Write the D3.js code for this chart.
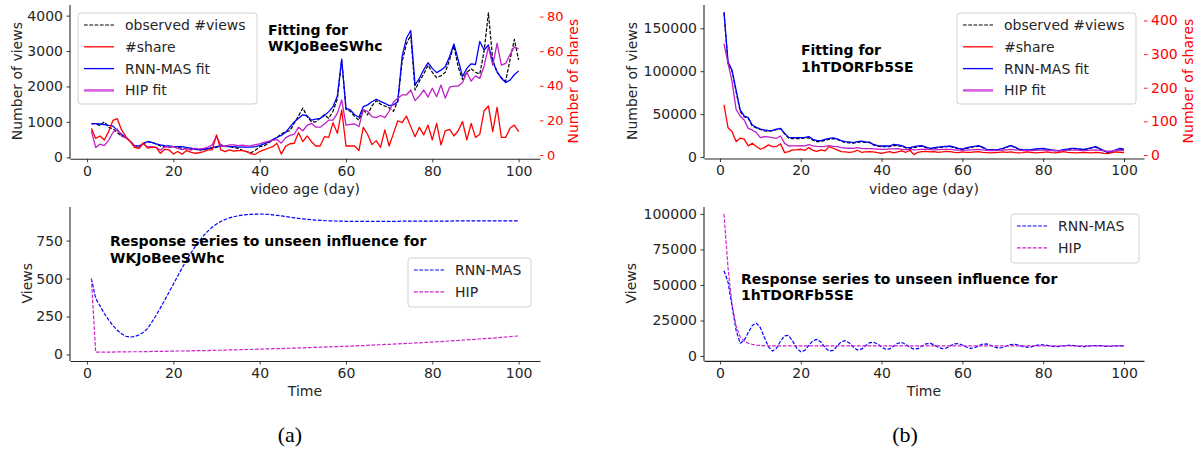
<!DOCTYPE html>
<html><head><meta charset="utf-8">
<script src="https://cdn.jsdelivr.net/npm/d3@7"></script>
<style>
body{margin:0;background:#fff}
svg{display:block}
</style>
</head><body>
<svg id="c" width="1200" height="453"></svg>
<script>
// ---------- categories ----------
const days = d3.range(1, 101);
const xTicks = [0, 20, 40, 60, 80, 100];

// ---------- (a) top: fitting for WKJoBeeSWhc ----------
const aObserved = [950,940,900,1000,850,800,700,600,560,450,330,280,380,450,420,380,320,300,280,300,
  280,260,240,220,230,200,230,250,260,280,350,320,300,280,250,200,160,130,200,300,
  320,400,490,560,660,720,750,960,1170,1390,1150,1000,1000,1100,1200,1100,1300,1650,2750,1350,
  1300,1150,1050,1350,1200,1450,1600,1500,1450,1400,1300,1600,2700,3200,3450,1900,2150,2350,2600,2400,
  2250,2300,2400,2750,3150,2550,2200,2400,2500,2400,2350,3000,4080,2750,2400,2250,2150,2750,3330,2750];
const aRnn = [950,950,940,920,900,880,760,650,560,450,330,320,380,440,420,380,350,330,320,300,
  300,300,280,260,230,220,220,240,270,300,320,310,300,300,290,290,290,290,300,330,
  380,430,500,560,620,700,850,1000,1100,1200,1170,1050,1080,1100,1180,1290,1430,1730,2770,1380,
  1340,1200,1130,1430,1480,1570,1640,1580,1525,1460,1480,1570,2840,3360,3580,2040,2230,2470,2670,2510,
  2390,2460,2560,2840,3200,2750,2280,2510,2640,2620,3270,3030,3170,2700,2420,2230,2110,2180,2330,2440];
const aHip = [750,280,370,330,480,700,800,600,550,450,320,250,380,300,300,280,200,300,280,300,
  250,220,250,200,250,230,250,280,350,600,330,300,350,350,330,340,320,330,360,380,
  420,450,480,500,400,550,620,650,850,750,900,960,850,850,940,1050,1050,1240,1620,910,
  930,940,870,1340,1300,1150,1120,1180,1120,1300,1560,1670,1760,1760,1900,1600,1730,1900,1700,1950,
  1710,2040,1670,1980,2010,2010,2110,2400,2150,2300,2230,2580,3120,2600,3220,2600,2650,2900,3120,3060];
const aShares = [15.4,9.6,11,8.7,13.5,20,21,14.5,10.6,7.7,4.4,3.9,7,4,4.4,4.4,1,3.3,3,0.6,
  2,0.5,2.5,1.7,1,1.3,2,3,3,11.6,3,2,3,2.3,2.5,2.5,2,0.6,0.4,2,
  3,3.9,4.8,6.8,0.5,5,6.5,6.8,12.9,7.7,11,7.7,5.2,5.2,10.6,10.2,18.7,12.5,26,5.2,
  5.2,5.2,2.5,16,12,6,8.3,4.4,14.5,5.2,12.5,19.8,18.7,22.5,16.4,10.6,16,11.6,17.3,8.7,
  18.3,5.8,14,14.8,11,14,19.3,8.7,18.3,10.2,12,25.6,28.3,13.5,27.6,10.2,10.2,15.4,17.3,13.5];
const aViewTicks = [0, 1000, 2000, 3000, 4000];
const aShareTicks = [0, 20, 40, 60, 80];

// ---------- (b) top: fitting for 1hTDORFb5SE ----------
const bObserved = [168000,108000,100000,76000,53000,47000,45000,36000,34000,32000,30500,30000,30500,32000,33000,27000,22000,21500,21500,21500,
  22000,22500,19500,18000,18000,19500,20500,21500,20500,18500,17000,16500,16000,17000,17500,17000,17500,14000,12500,12000,
  12000,12000,13500,13000,12500,10500,10000,11000,12000,12500,11000,9500,10000,11000,11500,12000,12000,11000,9500,8800,
  10000,11000,12000,12500,11000,8500,8000,7800,8500,9500,11500,13500,11000,8800,8000,7800,8200,8800,9300,9500,
  8800,7800,7400,7000,8200,8800,9500,9600,8800,8400,9200,10500,11500,9200,7000,5500,6200,7800,9500,8800];
const bRnn = [169000,111000,101000,78000,54800,47800,46000,37300,34600,32600,31500,30700,31000,32600,33400,27600,22900,22600,22600,22600,
  22900,23700,20600,19000,19000,20600,21700,22300,21200,19000,17900,17500,16700,17900,18600,17500,16700,14800,13200,12800,
  12800,12800,14800,14000,13200,11300,10900,12000,13000,13200,11500,10100,10800,11500,12000,12500,12800,11500,10000,9300,
  10500,11800,12500,13200,11500,9000,8600,8200,9000,10100,11800,13200,11500,9300,8600,8200,8600,9300,9800,10100,
  9300,8200,7800,7400,8600,9300,10100,10100,9300,8900,9700,10900,12000,9700,7400,5400,6600,8200,10100,9300];
const bHip = [132000,109000,87800,55500,47800,43100,33400,31500,28400,22500,23700,23500,22500,21800,24500,15900,12800,13000,13000,13200,
  13000,14400,13000,12400,12000,12400,13200,12400,12000,11000,10500,10200,10000,11000,10000,9800,9800,9500,9200,9000,
  9000,9500,9500,9800,9000,8500,8800,8200,8500,9000,9200,8600,8200,8500,8800,9000,8800,8400,8000,7800,
  8000,8300,8600,8800,8400,7800,7600,7500,7700,8000,8400,8800,8400,7900,7600,7400,7500,7700,7900,8000,
  7800,7500,7300,7200,7500,7800,8000,8000,7700,7500,7700,8000,8300,7800,7200,6800,7000,7400,7800,7600];
const bShares = [149,81,69,40,50,47,27,35,25,17,22,30,25,25,33,7,10,15,15,17,
  14,22,14,11,15,12,25,20,15,10,9,8,9,14,8,9,10,9,7,5,
  8,10,6,9,12,8,14,1,8,10,11,9,10,8,9,11,10,8,7,9,
  8,8,9,10,8,7,6,7,8,9,8,9,7,6,7,9,8,6,7,8,
  9,7,6,8,10,8,7,6,7,8,7,6,8,7,5,4,7,9,8,7];
const bViewTicks = [0, 50000, 100000, 150000];
const bShareTicks = [0, 100, 200, 300, 400];

// ---------- (a) bottom: response series ----------
const cRnn = [500,370,320,270,228,190,160,136,120,115,118,128,145,170,212,258,307,358,410,463,
  516,568,618,665,708,747,782,812,838,859,876,889,899,907,913,918,921,923,924,925,
  924,922,919,916,912,908,904,900,896,893,890,887,885,883,881,880,879,878,878,877,
  877,877,877,877,877,877,877,877,877,877,877,877,878,878,878,878,878,878,878,878,
  878,878,878,878,879,879,879,879,879,879,879,879,879,879,880,880,880,880,880,880];
const cHip = [500,15,15,16,16,16,17,17,17,18,18,18,19,19,20,20,21,21,22,22,
  23,23,24,24,25,25,26,26,27,28,28,29,30,30,31,32,33,33,34,35,
  36,37,38,38,39,40,41,42,43,44,45,46,47,48,49,50,51,52,53,54,
  55,57,58,59,60,62,63,64,66,67,68,70,71,73,74,76,77,79,80,82,
  84,85,87,89,91,92,94,96,98,100,102,104,106,108,110,113,115,117,120,122];
const cTicks = [0, 250, 500, 750];

// ---------- (b) bottom: response series ----------
const dRnn = [60000,52000,35000,18000,9000,11000,16500,21500,23200,20000,13000,6500,3500,5500,10500,14200,14500,10500,5500,3000,
  4000,7500,10800,11700,9800,6000,3500,4000,7000,10000,10800,9200,6300,4300,4800,7200,9300,9700,8500,6300,
  4700,5000,7000,9000,9500,8200,6200,4800,5200,7000,8600,8900,7900,6200,5200,5600,7200,8600,8800,7800,
  6300,5400,5800,7200,8400,8500,7600,6300,5600,6000,7200,8100,8200,7600,6600,6200,6400,7200,7800,7900,
  7500,6900,6600,6800,7200,7500,7500,7200,6800,6600,6900,7300,7400,7300,7000,6800,6900,7100,7200,7200];
const dHip = [100000,62000,36000,21000,13500,10500,9000,8200,7700,7400,7300,7200,7200,7200,7200,7200,7200,7200,7200,7200,
  7200,7200,7200,7200,7200,7200,7200,7200,7200,7200,7200,7200,7200,7200,7200,7200,7200,7200,7200,7200,
  7200,7200,7200,7200,7200,7200,7200,7200,7200,7200,7200,7200,7200,7200,7200,7200,7200,7200,7200,7200,
  7200,7200,7200,7200,7200,7200,7200,7200,7200,7200,7200,7200,7200,7200,7200,7200,7200,7200,7200,7200,
  7200,7200,7200,7200,7200,7200,7200,7200,7200,7200,7200,7200,7200,7200,7200,7200,7200,7200,7200,7200];
const dTicks = [0, 25000, 50000, 75000, 100000];

// ---------- styles ----------
const INK = "#262626";
const SANS = "DejaVu Sans, sans-serif";
const C_BLUE = "#0000ff", C_RED = "#ff0000", C_BLACK = "#000000", C_MAG = "#bf1fc8", C_MAG_LEG = "#d65fdf", C_MAGD = "#cc22cc";

const svg = d3.select("#c");

function styleAxis(g, color, fs) {
  g.selectAll(".domain").attr("stroke", INK).attr("stroke-width", 1.1);
  g.selectAll(".tick line").attr("stroke", color || INK).attr("stroke-width", 0.9);
  g.selectAll(".tick text").attr("fill", color || INK).style("font-size", (fs || 14) + "px")
    .style("font-family", SANS);
}

function txt(g) {
  return g.append("text").style("font-family", SANS).style("font-size", "14px");
}

function panel(o) {
  const g = svg.append("g");
  const x = d3.scaleLinear().domain([-3.95, 104.95]).range([o.x0, o.x1]);
  const y = d3.scaleLinear().domain(o.yDom).range([o.yb, o.yt]);
  let y2 = null;
  if (o.y2Dom) y2 = d3.scaleLinear().domain(o.y2Dom).range([o.yb, o.yt]);

  const line = (sc) => d3.line().x((d, i) => x(days[i])).y(d => sc(d));
  for (const s of o.series) {
    const sc = s.right ? y2 : y;
    g.append("path").datum(s.values).attr("d", line(sc))
      .attr("fill", "none").attr("stroke", s.color).attr("stroke-width", s.w || 1.3)
      .attr("stroke-dasharray", s.dash || null).attr("stroke-linejoin", "round");
  }

  const gx = g.append("g").attr("transform", `translate(0,${o.yb + 1.5})`)
    .call(d3.axisBottom(x).tickValues(xTicks).tickSize(3.5).tickPadding(3.5).tickSizeOuter(0));
  styleAxis(gx);
  const gy = g.append("g").attr("transform", `translate(${o.x0},0)`)
    .call(d3.axisLeft(y).tickValues(o.yTicks).tickFormat(d3.format("d")).tickSize(3.5).tickPadding(3.5).tickSizeOuter(0));
  gy.select(".domain").attr("d", `M0,${o.yb + 1.5}V${o.yt}`);
  styleAxis(gy);
  if (y2) {
    const gr = g.append("g").attr("transform", `translate(${o.x1},0)`)
      .call(d3.axisRight(y2).tickValues(o.y2Ticks).tickFormat(d3.format("d")).tickSize(3.5).tickPadding(3.5).tickSizeOuter(0));
    gr.select(".domain").remove();
    styleAxis(gr, C_RED, o.y2fs || 14);
    txt(g).attr("transform", `translate(${o.y2LabelX},${(o.yb + o.yt) / 2}) rotate(-90)`)
      .attr("text-anchor", "middle").attr("fill", C_RED).text(o.y2Label);
  }
  txt(g).attr("x", (o.x0 + o.x1) / 2).attr("y", o.yb + 36.5).attr("text-anchor", "middle")
    .attr("fill", INK).text(o.xLabel);
  txt(g).attr("transform", `translate(${o.yLabelX},${(o.yb + o.yt) / 2}) rotate(-90)`)
    .attr("text-anchor", "middle").attr("fill", INK).text(o.yLabel);

  const t = txt(g).style("font-weight", "bold").attr("fill", "#000");
  o.title.forEach((ln, i) => t.append("tspan").attr("x", o.titleX).attr("y", o.titleY + i * 16.5).text(ln));

  const L = o.legend;
  g.append("rect").attr("x", L.x).attr("y", L.y).attr("width", L.w).attr("height", L.h).attr("rx", 3)
    .attr("fill", "#fff").attr("fill-opacity", 0.8).attr("stroke", "#d0d0d0").attr("stroke-width", 1);
  L.items.forEach((it, i) => {
    const cy = L.y + 12 + i * 21.8;
    g.append("line").attr("x1", L.x + 6).attr("x2", L.x + 36).attr("y1", cy).attr("y2", cy)
      .attr("stroke", it.color).attr("stroke-width", it.w || 1.3).attr("stroke-dasharray", it.dash || null);
    txt(g).attr("x", L.x + 47).attr("y", cy).attr("dy", "0.35em").attr("fill", INK).text(it.label);
  });
}

const DASH = "3.7,1.6";

panel({
  x0: 70, x1: 540, yb: 157.3, yt: 5, yDom: [0, 4300], yTicks: aViewTicks,
  y2Dom: [-1.33, 86.7], y2Ticks: aShareTicks, y2Label: "Number of shares", y2LabelX: 578, y2fs: 13,
  xLabel: "video age (day)", yLabel: "Number of views", yLabelX: 21.5,
  title: ["Fitting for", "WKJoBeeSWhc"], titleX: 268, titleY: 34.5,
  series: [
    {values: aObserved, color: C_BLACK, dash: DASH, w: 1.2},
    {values: aRnn, color: C_BLUE},
    {values: aHip, color: C_MAG},
    {values: aShares, color: C_RED, right: true}
  ],
  legend: {x: 78, y: 13, w: 179, h: 91, items: [
    {label: "observed #views", color: C_BLACK, dash: DASH, w: 1.2},
    {label: "#share", color: C_RED},
    {label: "RNN-MAS fit", color: C_BLUE},
    {label: "HIP fit", color: C_MAG_LEG, w: 2.6}
  ]}
});

panel({
  x0: 704, x1: 1144, yb: 157, yt: 5, yDom: [0, 177150], yTicks: bViewTicks,
  y2Dom: [-6, 446], y2Ticks: bShareTicks, y2Label: "Number of shares", y2LabelX: 1193, y2fs: 14,
  xLabel: "video age (day)", yLabel: "Number of views", yLabelX: 636.5,
  title: ["Fitting for", "1hTDORFb5SE"], titleX: 801, titleY: 55,
  series: [
    {values: bObserved, color: C_BLACK, dash: DASH, w: 1.2},
    {values: bRnn, color: C_BLUE},
    {values: bHip, color: C_MAG},
    {values: bShares, color: C_RED, right: true}
  ],
  legend: {x: 957, y: 13, w: 179, h: 91, items: [
    {label: "observed #views", color: C_BLACK, dash: DASH, w: 1.2},
    {label: "#share", color: C_RED},
    {label: "RNN-MAS fit", color: C_BLUE},
    {label: "HIP fit", color: C_MAG_LEG, w: 2.6}
  ]}
});

panel({
  x0: 70, x1: 540, yb: 359.5, yt: 207, yDom: [-33, 971], yTicks: cTicks,
  xLabel: "Time", yLabel: "Views", yLabelX: 31.5,
  title: ["Response series to unseen influence for", "WKJoBeeSWhc"], titleX: 110, titleY: 246,
  series: [
    {values: cRnn, color: C_BLUE, dash: DASH, w: 1.2},
    {values: cHip, color: C_MAGD, dash: DASH, w: 1.2}
  ],
  legend: {x: 408, y: 258, w: 123, h: 49, items: [
    {label: "RNN-MAS", color: C_BLUE, dash: DASH, w: 1.2},
    {label: "HIP", color: C_MAGD, dash: DASH, w: 1.2}
  ]}
});

panel({
  x0: 704, x1: 1144, yb: 359.4, yt: 207, yDom: [-2375, 104875], yTicks: dTicks,
  xLabel: "Time", yLabel: "Views", yLabelX: 636,
  title: ["Response series to unseen influence for", "1hTDORFb5SE"], titleX: 741, titleY: 283.5,
  series: [
    {values: dRnn, color: C_BLUE, dash: DASH, w: 1.2},
    {values: dHip, color: C_MAGD, dash: DASH, w: 1.2}
  ],
  legend: {x: 1011, y: 214, w: 128, h: 49, items: [
    {label: "RNN-MAS", color: C_BLUE, dash: DASH, w: 1.2},
    {label: "HIP", color: C_MAGD, dash: DASH, w: 1.2}
  ]}
});

const SERIF = "'Liberation Serif', 'DejaVu Serif', serif";
svg.append("text").attr("x", 290).attr("y", 442).attr("text-anchor", "middle")
  .style("font-size", "22px").style("font-family", SERIF).attr("fill", "#000").text("(a)");
svg.append("text").attr("x", 905).attr("y", 442).attr("text-anchor", "middle")
  .style("font-size", "22px").style("font-family", SERIF).attr("fill", "#000").text("(b)");
</script>
</body></html>
